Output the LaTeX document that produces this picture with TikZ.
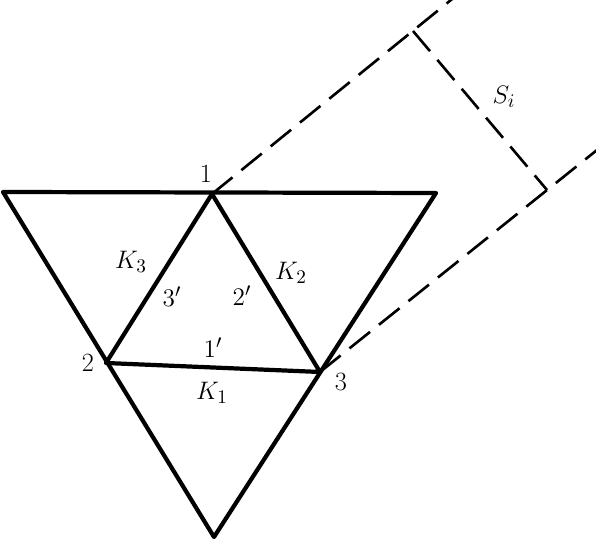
\documentclass[tikz,border=0pt]{standalone}
\usepackage{amsmath}
\usetikzlibrary{positioning}

\begin{document}
\begin{tikzpicture}[x=0.02cm,y=-0.02cm,
  edge/.style={line width=2.4pt,line cap=round,line join=round},
  guide/.style={line width=1.5pt,dash pattern=on 15pt off 6.5pt},
  lab/.style={inner sep=0pt,font=\fontsize{15}{18}\selectfont}]
 \clip (0,0) rectangle (596,540);
 \coordinate (A) at (3,192);
 \coordinate (B) at (436,193);
 \coordinate (C) at (214,537);
 \coordinate (v1) at (212,194);
 \coordinate (v2) at (106,363);
 \coordinate (v3) at (320,372);
 \coordinate (e1) at (462,-9);
 \coordinate (e2) at (612,138);
 \coordinate (s1) at (413,31);
 \coordinate (s2) at (547,190);
 \draw[edge] (A)--(B)--(C)--cycle;
 \draw[edge] (v1)--(v2)--(v3)--cycle;
 \draw[guide] (v1)--(e1);
 \draw[guide] (v3)--(e2);
 \draw[guide] (s1)--(s2);
 \node[lab] (n1) at (206,174) {1};
 \node[lab] (n2) at (88,363) {2};
 \node[lab] (n3) at (341,382) {3};
 \node[lab] (k3) at (131,262) {$K_3$};
 \node[lab] (k2) at (291,273) {$K_2$};
 \node[lab] (k1) at (212,393) {$K_1$};
 \node[lab] (p3) at (172,297) {$3'$};
 \node[lab] (p2) at (242,296) {$2'$};
 \node[lab] (p1) at (213,348) {$1'$};
 \node[lab] (si) at (504,97) {$S_i$};
\end{tikzpicture}
\end{document}
